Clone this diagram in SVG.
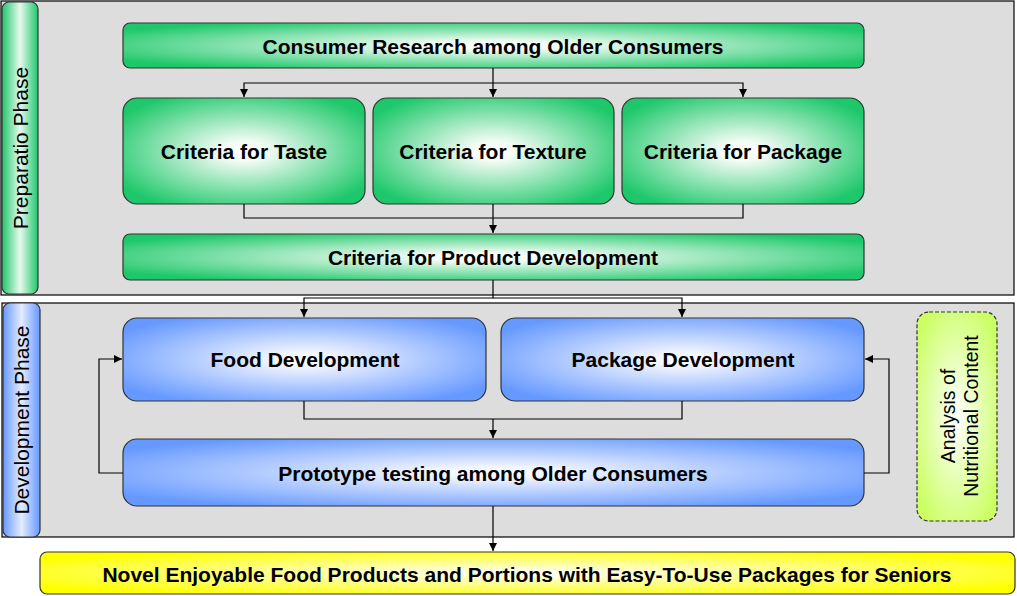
<svg xmlns="http://www.w3.org/2000/svg" width="1017" height="596" viewBox="0 0 1017 596">
<defs>
<radialGradient id="gG" cx="0.5" cy="0.5" r="0.6"><stop offset="0" stop-color="#ffffff"/><stop offset="0.15" stop-color="#f4fcf6"/><stop offset="1" stop-color="#1ec86a"/></radialGradient>
<radialGradient id="gB" cx="0.5" cy="0.5" r="0.6"><stop offset="0" stop-color="#ffffff"/><stop offset="0.15" stop-color="#f0f4ff"/><stop offset="1" stop-color="#6699ff"/></radialGradient>
<radialGradient id="gY" cx="0.5" cy="0.5" r="0.6"><stop offset="0" stop-color="#ffffff"/><stop offset="1" stop-color="#ffff00"/></radialGradient>
<radialGradient id="gL" cx="0.5" cy="0.5" r="0.6"><stop offset="0" stop-color="#ffffff"/><stop offset="1" stop-color="#ccff66"/></radialGradient>
<linearGradient id="lG" x1="0" y1="0" x2="1" y2="0"><stop offset="0" stop-color="#1ec86a"/><stop offset="0.5" stop-color="#e8f8ee"/><stop offset="1" stop-color="#1ec86a"/></linearGradient>
<linearGradient id="lB" x1="0" y1="0" x2="1" y2="0"><stop offset="0" stop-color="#6699ff"/><stop offset="0.5" stop-color="#e4ecff"/><stop offset="1" stop-color="#6699ff"/></linearGradient>
<marker id="ar" markerWidth="10" markerHeight="10" refX="9" refY="5" orient="auto" markerUnits="userSpaceOnUse"><path d="M1,1 L9,5 L1,9 Z" fill="#000"/></marker>
<style>
.panel{fill:#dddddd;stroke:#000;stroke-width:1.2}
.box{stroke:#333;stroke-width:1.2}
.t{font-family:"Liberation Sans",Arial,sans-serif;font-weight:bold;font-size:21px;text-anchor:middle;fill:#000}
.r{font-family:"Liberation Sans",Arial,sans-serif;font-size:21px;text-anchor:middle;fill:#000}
.a{font-family:"Liberation Sans",Arial,sans-serif;font-size:19.5px;text-anchor:middle;fill:#000}
.c{fill:none;stroke:#000;stroke-width:1.2}
</style>
</defs>
<g id="panel-prep">
<rect class="panel" x="1" y="1" width="1013" height="294"/>
<rect class="box" x="2" y="2" width="36" height="292" rx="7" fill="url(#lG)"/>
<text class="r" transform="translate(28,148) rotate(-90)">Preparatio Phase</text>
</g>
<g id="panel-dev">
<rect class="panel" x="2" y="303" width="1012" height="234"/>
<rect class="box" x="3" y="303" width="37" height="234" rx="7" fill="url(#lB)"/>
<text class="r" transform="translate(29,420) rotate(-90)">Development Phase</text>
</g>
<g id="n-consumer"><rect class="box" x="123" y="23" width="741" height="45" rx="7" fill="url(#gG)"/><text class="t" x="493" y="54">Consumer Research among Older Consumers</text></g>
<g id="n-taste"><rect class="box" x="123" y="98" width="242" height="106" rx="14" fill="url(#gG)"/><text class="t" x="244" y="159">Criteria for Taste</text></g>
<g id="n-texture"><rect class="box" x="373" y="98" width="241" height="106" rx="14" fill="url(#gG)"/><text class="t" x="493" y="159">Criteria for Texture</text></g>
<g id="n-package"><rect class="box" x="622" y="98" width="242" height="106" rx="14" fill="url(#gG)"/><text class="t" x="743" y="159">Criteria for Package</text></g>
<g id="n-productdev"><rect class="box" x="123" y="234" width="741" height="46" rx="7" fill="url(#gG)"/><text class="t" x="493" y="265">Criteria for Product Development</text></g>
<g id="n-food"><rect class="box" x="123" y="318" width="363" height="83" rx="14" fill="url(#gB)"/><text class="t" x="305" y="367">Food Development</text></g>
<g id="n-packdev"><rect class="box" x="501" y="318" width="363" height="83" rx="14" fill="url(#gB)"/><text class="t" x="683" y="367">Package Development</text></g>
<g id="n-proto"><rect class="box" x="123" y="439" width="741" height="67" rx="14" fill="url(#gB)"/><text class="t" x="493" y="481">Prototype testing among Older Consumers</text></g>
<g id="n-analysis"><rect x="917" y="312" width="80" height="209" rx="12" fill="url(#gL)" stroke="#333" stroke-width="1.2" stroke-dasharray="4,2"/><text class="a" transform="translate(955,416) rotate(-90)">Analysis of</text><text class="a" transform="translate(978,416) rotate(-90)">Nutritional Content</text></g>
<g id="n-novel"><rect class="box" x="40" y="552" width="975" height="42" rx="7" fill="url(#gY)"/><text class="t" x="527" y="582">Novel Enjoyable Food Products and Portions with Easy-To-Use Packages for Seniors</text></g>
<g id="connectors">
<path class="c" d="M493,68 V83 H244 V97" marker-end="url(#ar)"/>
<path class="c" d="M493,83 V97" marker-end="url(#ar)"/>
<path class="c" d="M493,83 H743 V97" marker-end="url(#ar)"/>
<path class="c" d="M244,204 V218 H743 V204"/>
<path class="c" d="M493,204 V233" marker-end="url(#ar)"/>
<path class="c" d="M493,280 V298 H304 V317" marker-end="url(#ar)"/>
<path class="c" d="M493,298 H682 V317" marker-end="url(#ar)"/>
<path class="c" d="M304,401 V419 H682 V401"/>
<path class="c" d="M493,419 V438" marker-end="url(#ar)"/>
<path class="c" d="M123,473 H99 V359 H122" marker-end="url(#ar)"/>
<path class="c" d="M864,473 H889 V359 H865" marker-end="url(#ar)"/>
<path class="c" d="M493,506 V551" marker-end="url(#ar)"/>
</g>
</svg>
